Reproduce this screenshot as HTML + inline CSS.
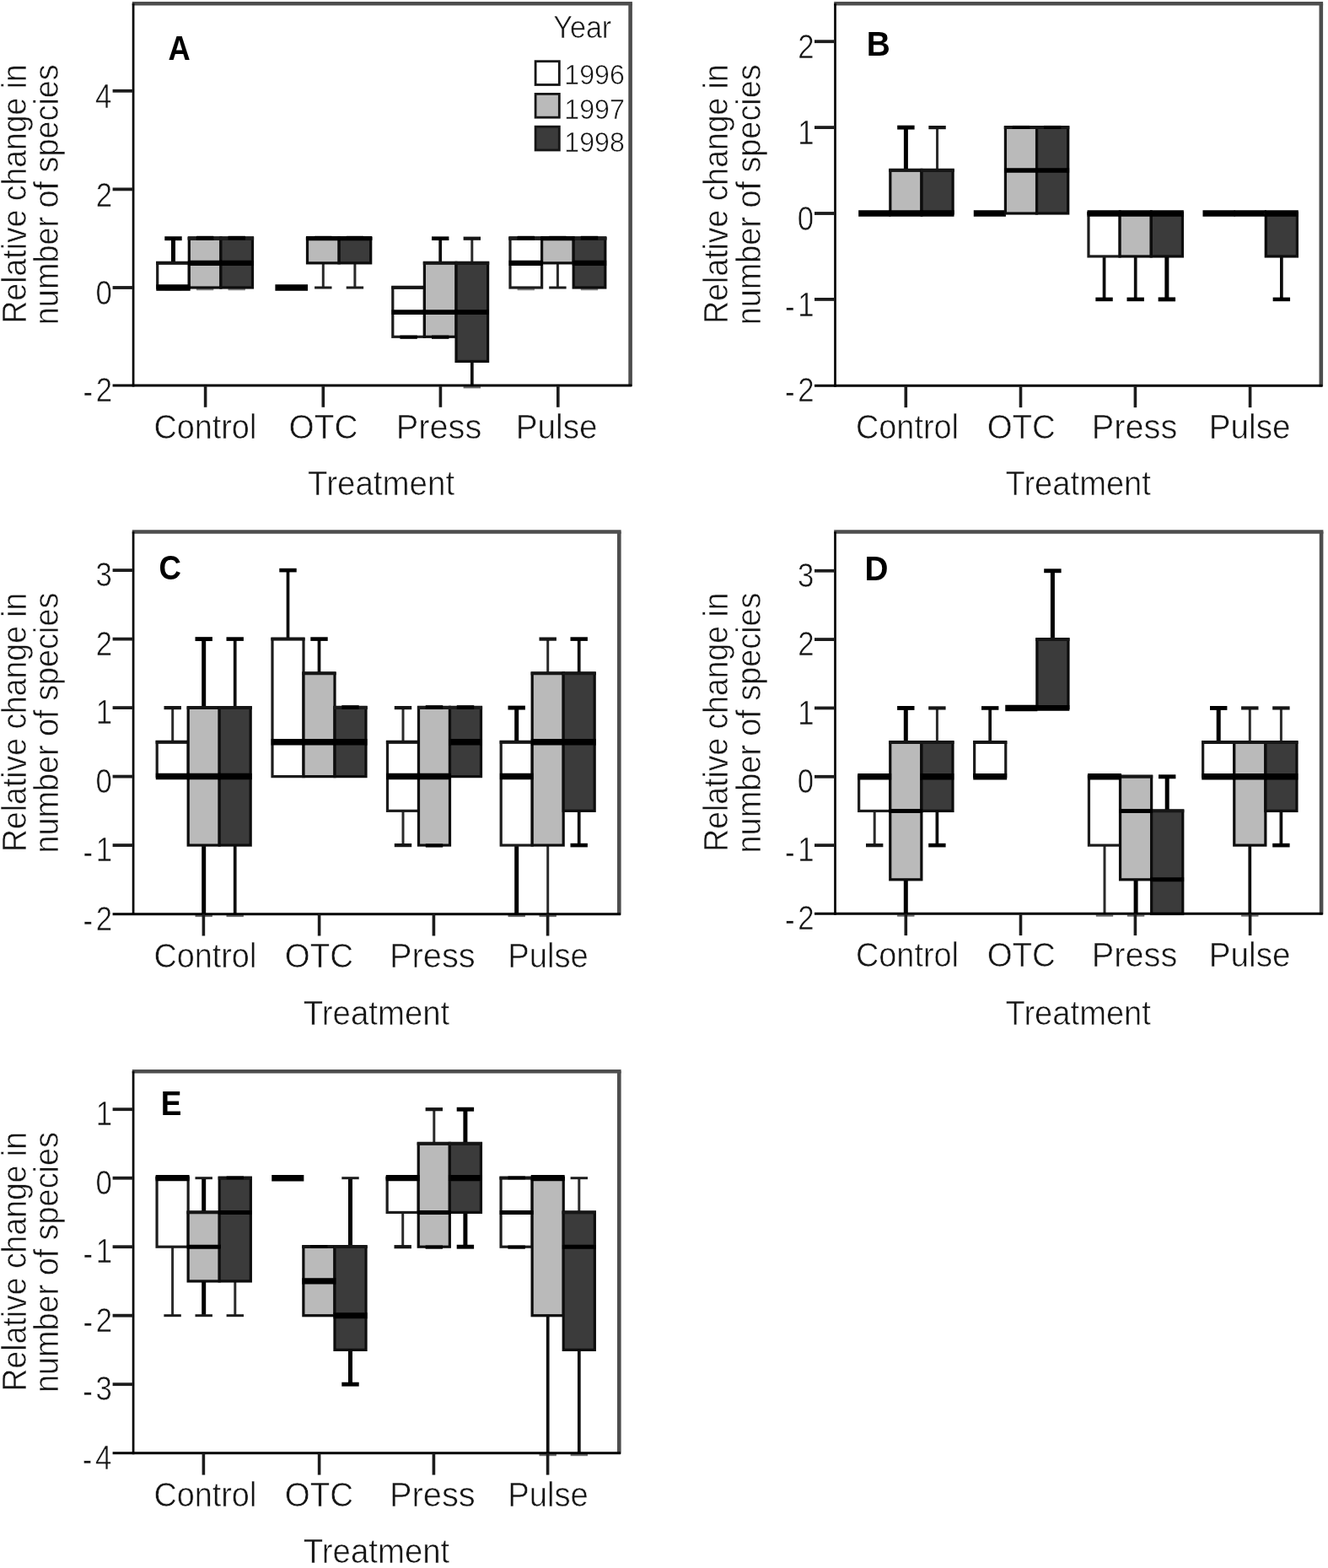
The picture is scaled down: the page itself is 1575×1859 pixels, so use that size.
<!DOCTYPE html>
<html lang="en"><head><meta charset="utf-8"><title>Relative change in number of species by treatment and year</title>
<style>html,body{margin:0;padding:0;background:#fff}body{width:1575px;height:1859px;overflow:hidden}svg{display:block}text{font-family:'Liberation Sans', Arial, Helvetica, sans-serif;fill:#141414;stroke:#fff;stroke-width:0.6px}.b{font-weight:bold;fill:#000;stroke:none}</style></head><body>
<svg width="1575" height="1859" viewBox="0 0 1575 1859">
<defs><filter id="soft" x="0" y="0" width="1575" height="1859" filterUnits="userSpaceOnUse"><feGaussianBlur stdDeviation="0.55"/></filter></defs>
<rect width="1575" height="1859" fill="#fff"/>
<g filter="url(#soft)">
<g id="panel-A">
<line x1="205.5" y1="311.85" x2="205.5" y2="282.7" stroke="#000" stroke-width="5"/>
<line x1="195.3" y1="282.7" x2="215.7" y2="282.7" stroke="#000" stroke-width="4.9"/>
<line x1="195.3" y1="343" x2="215.7" y2="343" stroke="#8a8a8a" stroke-width="2.6"/>
<line x1="232.9" y1="343" x2="253.3" y2="343" stroke="#8a8a8a" stroke-width="2.6"/>
<line x1="270.5" y1="343" x2="290.9" y2="343" stroke="#8a8a8a" stroke-width="2.6"/>
<line x1="383.3" y1="311.85" x2="383.3" y2="341" stroke="#2a2a2a" stroke-width="3"/>
<line x1="373.1" y1="341" x2="393.5" y2="341" stroke="#1a1a1a" stroke-width="3"/>
<line x1="420.9" y1="311.85" x2="420.9" y2="341" stroke="#2a2a2a" stroke-width="3"/>
<line x1="410.7" y1="341" x2="431.1" y2="341" stroke="#1a1a1a" stroke-width="3"/>
<line x1="522.2" y1="311.85" x2="522.2" y2="282.7" stroke="#0a0a0a" stroke-width="3.7"/>
<line x1="512" y1="282.7" x2="532.4" y2="282.7" stroke="#000" stroke-width="4.6"/>
<line x1="559.8" y1="428.45" x2="559.8" y2="457.6" stroke="#0a0a0a" stroke-width="3.7"/>
<line x1="549.6" y1="459.3" x2="570" y2="459.3" stroke="#6a6a6a" stroke-width="2.2"/>
<line x1="559.8" y1="311.85" x2="559.8" y2="282.7" stroke="#2a2a2a" stroke-width="3"/>
<line x1="549.6" y1="282.7" x2="570" y2="282.7" stroke="#141414" stroke-width="4.2"/>
<line x1="613.6" y1="343" x2="634" y2="343" stroke="#8a8a8a" stroke-width="2.6"/>
<line x1="661.4" y1="311.85" x2="661.4" y2="341" stroke="#2a2a2a" stroke-width="3"/>
<line x1="651.2" y1="341" x2="671.6" y2="341" stroke="#1a1a1a" stroke-width="3"/>
<line x1="688.8" y1="343" x2="709.2" y2="343" stroke="#8a8a8a" stroke-width="2.6"/>
<rect x="186.7" y="311.85" width="37.6" height="29.15" fill="#ffffff" stroke="#1c1c1c" stroke-width="3.2"/>
<line x1="185.1" y1="311.65" x2="225.9" y2="311.65" stroke="#141414" stroke-width="4"/>
<rect x="224.3" y="282.7" width="37.6" height="58.3" fill="#bababa" stroke="#0c0c0c" stroke-width="3.2"/>
<line x1="222.7" y1="282.5" x2="263.5" y2="282.5" stroke="#141414" stroke-width="4"/>
<rect x="261.9" y="282.7" width="37.6" height="58.3" fill="#3a3a3a" stroke="#0c0c0c" stroke-width="3.2"/>
<line x1="260.3" y1="282.5" x2="301.1" y2="282.5" stroke="#141414" stroke-width="4"/>
<line x1="326.4" y1="341" x2="365" y2="341" stroke="#000" stroke-width="7.4"/>
<rect x="364.5" y="282.7" width="37.6" height="29.15" fill="#bababa" stroke="#0c0c0c" stroke-width="3.2"/>
<line x1="362.9" y1="282.5" x2="403.7" y2="282.5" stroke="#141414" stroke-width="4"/>
<rect x="402.1" y="282.7" width="37.6" height="29.15" fill="#3a3a3a" stroke="#0c0c0c" stroke-width="3.2"/>
<line x1="400.5" y1="282.5" x2="441.3" y2="282.5" stroke="#141414" stroke-width="4"/>
<rect x="465.8" y="341" width="37.6" height="58.3" fill="#ffffff" stroke="#1c1c1c" stroke-width="3.2"/>
<line x1="464.2" y1="340.8" x2="505" y2="340.8" stroke="#141414" stroke-width="4"/>
<rect x="503.4" y="311.85" width="37.6" height="87.45" fill="#bababa" stroke="#0c0c0c" stroke-width="3.2"/>
<line x1="501.8" y1="311.65" x2="542.6" y2="311.65" stroke="#141414" stroke-width="4"/>
<rect x="541" y="311.85" width="37.6" height="116.6" fill="#3a3a3a" stroke="#0c0c0c" stroke-width="3.2"/>
<line x1="539.4" y1="311.65" x2="580.2" y2="311.65" stroke="#141414" stroke-width="4"/>
<rect x="605" y="282.7" width="37.6" height="58.3" fill="#ffffff" stroke="#1c1c1c" stroke-width="3.2"/>
<line x1="603.4" y1="282.5" x2="644.2" y2="282.5" stroke="#141414" stroke-width="4"/>
<rect x="642.6" y="282.7" width="37.6" height="29.15" fill="#bababa" stroke="#0c0c0c" stroke-width="3.2"/>
<line x1="641" y1="282.5" x2="681.8" y2="282.5" stroke="#141414" stroke-width="4"/>
<rect x="680.2" y="282.7" width="37.6" height="58.3" fill="#3a3a3a" stroke="#0c0c0c" stroke-width="3.2"/>
<line x1="678.6" y1="282.5" x2="719.4" y2="282.5" stroke="#141414" stroke-width="4"/>
<line x1="222.8" y1="282.5" x2="263.4" y2="282.5" stroke="#1a1a1a" stroke-width="4.4"/>
<line x1="232.9" y1="282.2" x2="253.3" y2="282.2" stroke="#000" stroke-width="4.8"/>
<line x1="260.4" y1="282.5" x2="301" y2="282.5" stroke="#1a1a1a" stroke-width="4.4"/>
<line x1="270.5" y1="282.2" x2="290.9" y2="282.2" stroke="#000" stroke-width="4.8"/>
<line x1="363" y1="282.5" x2="403.6" y2="282.5" stroke="#1a1a1a" stroke-width="4.4"/>
<line x1="373.1" y1="282.2" x2="393.5" y2="282.2" stroke="#000" stroke-width="4.8"/>
<line x1="400.6" y1="282.5" x2="441.2" y2="282.5" stroke="#1a1a1a" stroke-width="4.4"/>
<line x1="410.7" y1="282.2" x2="431.1" y2="282.2" stroke="#000" stroke-width="4.8"/>
<line x1="474.4" y1="399.7" x2="494.8" y2="399.7" stroke="#000" stroke-width="4.2"/>
<line x1="512" y1="399.7" x2="532.4" y2="399.7" stroke="#000" stroke-width="4.2"/>
<line x1="603.5" y1="282.5" x2="644.1" y2="282.5" stroke="#1a1a1a" stroke-width="4.4"/>
<line x1="613.6" y1="282.2" x2="634" y2="282.2" stroke="#000" stroke-width="4.8"/>
<line x1="641.1" y1="282.5" x2="681.7" y2="282.5" stroke="#1a1a1a" stroke-width="4.4"/>
<line x1="651.2" y1="282.2" x2="671.6" y2="282.2" stroke="#000" stroke-width="4.8"/>
<line x1="678.7" y1="282.5" x2="719.3" y2="282.5" stroke="#1a1a1a" stroke-width="4.4"/>
<line x1="688.8" y1="282.2" x2="709.2" y2="282.2" stroke="#000" stroke-width="4.8"/>
<line x1="185.3" y1="341" x2="225.7" y2="341" stroke="#000" stroke-width="7.4"/>
<line x1="222.9" y1="311.85" x2="263.3" y2="311.85" stroke="#000" stroke-width="6.4"/>
<line x1="260.5" y1="311.85" x2="300.9" y2="311.85" stroke="#000" stroke-width="6.4"/>
<line x1="363.1" y1="282.7" x2="403.5" y2="282.7" stroke="#000" stroke-width="5"/>
<line x1="400.7" y1="282.7" x2="441.1" y2="282.7" stroke="#000" stroke-width="5"/>
<line x1="464.4" y1="370.15" x2="504.8" y2="370.15" stroke="#000" stroke-width="5.8"/>
<line x1="502" y1="370.15" x2="542.4" y2="370.15" stroke="#000" stroke-width="5.8"/>
<line x1="539.6" y1="370.15" x2="580" y2="370.15" stroke="#000" stroke-width="5.8"/>
<line x1="603.6" y1="311.85" x2="644" y2="311.85" stroke="#000" stroke-width="6.4"/>
<line x1="641.2" y1="282.7" x2="681.6" y2="282.7" stroke="#000" stroke-width="5"/>
<line x1="678.8" y1="311.85" x2="719.2" y2="311.85" stroke="#000" stroke-width="6.4"/>
<line x1="156.8" y1="4.25" x2="749.9" y2="4.25" stroke="#4e4e4e" stroke-width="4.6"/>
<line x1="747.6" y1="4" x2="747.6" y2="458" stroke="#4e4e4e" stroke-width="4.6"/>
<line x1="158.1" y1="4" x2="158.1" y2="458.4" stroke="#000" stroke-width="2.7"/>
<line x1="133.6" y1="457" x2="749.3" y2="457" stroke="#000" stroke-width="3"/>
<line x1="133.6" y1="107.8" x2="158.1" y2="107.8" stroke="#1a1a1a" stroke-width="3.8"/>
<text class="t" transform="translate(113.04 128.1) scale(0.86 1)" font-size="40.5">4</text>
<line x1="133.6" y1="224.4" x2="158.1" y2="224.4" stroke="#1a1a1a" stroke-width="3.8"/>
<text class="t" transform="translate(113.74 244.7) scale(0.86 1)" font-size="40.5">2</text>
<line x1="133.6" y1="341" x2="158.1" y2="341" stroke="#1a1a1a" stroke-width="3.8"/>
<text class="t" transform="translate(113.39 361.3) scale(0.86 1)" font-size="40.5">0</text>
<text class="t" transform="translate(98.53 475.8) scale(0.86 1)" font-size="40.5"><tspan dy="2.3">-</tspan><tspan dy="-2.3" dx="4.2">2</tspan></text>
<line x1="243.6" y1="457" x2="243.6" y2="482.8" stroke="#1a1a1a" stroke-width="3.6"/>
<text class="t" transform="translate(182.41 520.1) scale(0.934 1)" font-size="40.5">Control</text>
<line x1="383.3" y1="457" x2="383.3" y2="482.8" stroke="#1a1a1a" stroke-width="3.6"/>
<text class="t" transform="translate(342.55 520.1) scale(0.9579 1)" font-size="40.5">OTC</text>
<line x1="522.4" y1="457" x2="522.4" y2="482.8" stroke="#1a1a1a" stroke-width="3.6"/>
<text class="t" transform="translate(469.72 520.1) scale(0.9821 1)" font-size="40.5">Press</text>
<line x1="661.8" y1="457" x2="661.8" y2="482.8" stroke="#1a1a1a" stroke-width="3.6"/>
<text class="t" transform="translate(611.7 520.1) scale(0.9574 1)" font-size="40.5">Pulse</text>
<text class="t" transform="translate(365.03 587) scale(0.9353 1)" font-size="41.2">Treatment</text>
<text class="t" transform="translate(30.8 383.49) rotate(-90) scale(0.9005 1)" font-size="41.5">Relative change in</text>
<text class="t" transform="translate(69.3 385.16) rotate(-90) scale(0.9115 1)" font-size="41.5">number of species</text>
<text class="b" transform="translate(199.57 70.9) scale(0.8753 1)" font-size="41.5">A</text>
<text class="t" transform="translate(656.32 45.4) scale(0.922 1)" font-size="37">Year</text>
<rect x="635.1" y="72.7" width="28.2" height="27.8" fill="#ffffff" stroke="#141414" stroke-width="2.8"/>
<text class="t" transform="translate(669.29 100.2) scale(0.9458 1)" font-size="34">1996</text>
<rect x="635.1" y="111.4" width="28.2" height="27.8" fill="#bababa" stroke="#141414" stroke-width="2.8"/>
<text class="t" transform="translate(669.28 140.7) scale(0.948 1)" font-size="34">1997</text>
<rect x="635.1" y="150.2" width="28.2" height="27.8" fill="#3a3a3a" stroke="#141414" stroke-width="2.8"/>
<text class="t" transform="translate(669.29 179.8) scale(0.9458 1)" font-size="34">1998</text>
</g>
<g id="panel-B">
<line x1="1074.4" y1="202.05" x2="1074.4" y2="151.1" stroke="#000" stroke-width="5"/>
<line x1="1064.2" y1="151.1" x2="1084.6" y2="151.1" stroke="#000" stroke-width="4.9"/>
<line x1="1111.55" y1="202.05" x2="1111.55" y2="151.1" stroke="#2a2a2a" stroke-width="3"/>
<line x1="1101.35" y1="151.1" x2="1121.75" y2="151.1" stroke="#141414" stroke-width="4.2"/>
<line x1="1309.55" y1="303.95" x2="1309.55" y2="354.9" stroke="#0a0a0a" stroke-width="3.7"/>
<line x1="1299.35" y1="354.9" x2="1319.75" y2="354.9" stroke="#000" stroke-width="4.6"/>
<line x1="1346.7" y1="303.95" x2="1346.7" y2="354.9" stroke="#0a0a0a" stroke-width="3.7"/>
<line x1="1336.5" y1="354.9" x2="1356.9" y2="354.9" stroke="#000" stroke-width="4.6"/>
<line x1="1383.85" y1="303.95" x2="1383.85" y2="354.9" stroke="#000" stroke-width="5"/>
<line x1="1373.65" y1="354.9" x2="1394.05" y2="354.9" stroke="#000" stroke-width="4.9"/>
<line x1="1519.85" y1="303.95" x2="1519.85" y2="354.9" stroke="#0a0a0a" stroke-width="3.7"/>
<line x1="1509.65" y1="354.9" x2="1530.05" y2="354.9" stroke="#000" stroke-width="4.6"/>
<line x1="1018.18" y1="253" x2="1056.33" y2="253" stroke="#000" stroke-width="7.4"/>
<rect x="1055.83" y="202.05" width="37.15" height="50.95" fill="#bababa" stroke="#0c0c0c" stroke-width="3.2"/>
<line x1="1054.23" y1="201.85" x2="1094.58" y2="201.85" stroke="#141414" stroke-width="4"/>
<rect x="1092.98" y="202.05" width="37.15" height="50.95" fill="#3a3a3a" stroke="#0c0c0c" stroke-width="3.2"/>
<line x1="1091.38" y1="201.85" x2="1131.73" y2="201.85" stroke="#141414" stroke-width="4"/>
<line x1="1154.78" y1="253" x2="1192.93" y2="253" stroke="#000" stroke-width="7.4"/>
<rect x="1192.42" y="151.1" width="37.15" height="101.9" fill="#bababa" stroke="#0c0c0c" stroke-width="3.2"/>
<line x1="1190.83" y1="150.9" x2="1231.17" y2="150.9" stroke="#141414" stroke-width="4"/>
<rect x="1229.58" y="151.1" width="37.15" height="101.9" fill="#3a3a3a" stroke="#0c0c0c" stroke-width="3.2"/>
<line x1="1227.98" y1="150.9" x2="1268.33" y2="150.9" stroke="#141414" stroke-width="4"/>
<rect x="1290.98" y="253" width="37.15" height="50.95" fill="#ffffff" stroke="#1c1c1c" stroke-width="3.2"/>
<line x1="1289.38" y1="252.8" x2="1329.73" y2="252.8" stroke="#141414" stroke-width="4"/>
<rect x="1328.12" y="253" width="37.15" height="50.95" fill="#bababa" stroke="#0c0c0c" stroke-width="3.2"/>
<line x1="1326.53" y1="252.8" x2="1366.88" y2="252.8" stroke="#141414" stroke-width="4"/>
<rect x="1365.28" y="253" width="37.15" height="50.95" fill="#3a3a3a" stroke="#0c0c0c" stroke-width="3.2"/>
<line x1="1363.68" y1="252.8" x2="1404.03" y2="252.8" stroke="#141414" stroke-width="4"/>
<line x1="1426.48" y1="253" x2="1464.63" y2="253" stroke="#000" stroke-width="7.4"/>
<line x1="1463.62" y1="253" x2="1501.78" y2="253" stroke="#000" stroke-width="7.4"/>
<rect x="1501.28" y="253" width="37.15" height="50.95" fill="#3a3a3a" stroke="#0c0c0c" stroke-width="3.2"/>
<line x1="1499.68" y1="252.8" x2="1540.03" y2="252.8" stroke="#141414" stroke-width="4"/>
<line x1="1200.8" y1="150.8" x2="1221.2" y2="150.8" stroke="#000" stroke-width="3.8"/>
<line x1="1237.95" y1="150.8" x2="1258.35" y2="150.8" stroke="#000" stroke-width="3.8"/>
<line x1="1054.42" y1="253" x2="1094.38" y2="253" stroke="#000" stroke-width="7.4"/>
<line x1="1091.58" y1="253" x2="1131.53" y2="253" stroke="#000" stroke-width="7.4"/>
<line x1="1191.02" y1="202.05" x2="1230.98" y2="202.05" stroke="#000" stroke-width="5.6"/>
<line x1="1228.17" y1="202.05" x2="1268.13" y2="202.05" stroke="#000" stroke-width="5.6"/>
<line x1="1289.58" y1="253" x2="1329.53" y2="253" stroke="#000" stroke-width="7.4"/>
<line x1="1326.72" y1="253" x2="1366.68" y2="253" stroke="#000" stroke-width="7.4"/>
<line x1="1363.88" y1="253" x2="1403.83" y2="253" stroke="#000" stroke-width="7.4"/>
<line x1="1499.88" y1="253" x2="1539.83" y2="253" stroke="#000" stroke-width="7.4"/>
<line x1="989.2" y1="4.25" x2="1569.1" y2="4.25" stroke="#4e4e4e" stroke-width="4.6"/>
<line x1="1566.8" y1="4" x2="1566.8" y2="458.3" stroke="#4e4e4e" stroke-width="4.6"/>
<line x1="990.5" y1="4" x2="990.5" y2="458.7" stroke="#000" stroke-width="2.7"/>
<line x1="966" y1="457.3" x2="1568.5" y2="457.3" stroke="#000" stroke-width="3"/>
<line x1="966" y1="49.2" x2="990.5" y2="49.2" stroke="#1a1a1a" stroke-width="3.8"/>
<text class="t" transform="translate(946.14 69.2) scale(0.86 1)" font-size="40.5">2</text>
<line x1="966" y1="151.1" x2="990.5" y2="151.1" stroke="#1a1a1a" stroke-width="3.8"/>
<text class="t" transform="translate(946.14 171.1) scale(0.86 1)" font-size="40.5">1</text>
<line x1="966" y1="253" x2="990.5" y2="253" stroke="#1a1a1a" stroke-width="3.8"/>
<text class="t" transform="translate(945.79 273) scale(0.86 1)" font-size="40.5">0</text>
<line x1="966" y1="354.9" x2="990.5" y2="354.9" stroke="#1a1a1a" stroke-width="3.8"/>
<text class="t" transform="translate(930.93 374.9) scale(0.86 1)" font-size="40.5"><tspan dy="2.3">-</tspan><tspan dy="-2.3" dx="4.2">1</tspan></text>
<text class="t" transform="translate(930.93 476.1) scale(0.86 1)" font-size="40.5"><tspan dy="2.3">-</tspan><tspan dy="-2.3" dx="4.2">2</tspan></text>
<line x1="1074.3" y1="457.3" x2="1074.3" y2="483.1" stroke="#1a1a1a" stroke-width="3.6"/>
<text class="t" transform="translate(1014.91 520.4) scale(0.9356 1)" font-size="40.5">Control</text>
<line x1="1210.5" y1="457.3" x2="1210.5" y2="483.1" stroke="#1a1a1a" stroke-width="3.6"/>
<text class="t" transform="translate(1170.67 520.4) scale(0.9506 1)" font-size="40.5">OTC</text>
<line x1="1346.4" y1="457.3" x2="1346.4" y2="483.1" stroke="#1a1a1a" stroke-width="3.6"/>
<text class="t" transform="translate(1294.72 520.4) scale(0.9821 1)" font-size="40.5">Press</text>
<line x1="1482.6" y1="457.3" x2="1482.6" y2="483.1" stroke="#1a1a1a" stroke-width="3.6"/>
<text class="t" transform="translate(1433.81 520.4) scale(0.9543 1)" font-size="40.5">Pulse</text>
<text class="t" transform="translate(1192.54 587) scale(0.9261 1)" font-size="41.2">Treatment</text>
<text class="t" transform="translate(863.2 383.64) rotate(-90) scale(0.9005 1)" font-size="41.5">Relative change in</text>
<text class="t" transform="translate(901.7 385.31) rotate(-90) scale(0.9115 1)" font-size="41.5">number of species</text>
<text class="b" transform="translate(1027.77 66.4) scale(0.9364 1)" font-size="41.5">B</text>
</g>
<g id="panel-C">
<line x1="204.7" y1="879.85" x2="204.7" y2="839.1" stroke="#2a2a2a" stroke-width="3"/>
<line x1="194.5" y1="839.1" x2="214.9" y2="839.1" stroke="#141414" stroke-width="4.2"/>
<line x1="241.7" y1="1002.1" x2="241.7" y2="1083.6" stroke="#000" stroke-width="5"/>
<line x1="231.5" y1="1086" x2="251.9" y2="1086" stroke="#6a6a6a" stroke-width="2.2"/>
<line x1="241.7" y1="839.1" x2="241.7" y2="757.6" stroke="#000" stroke-width="5"/>
<line x1="231.5" y1="757.6" x2="251.9" y2="757.6" stroke="#000" stroke-width="4.9"/>
<line x1="278.7" y1="1002.1" x2="278.7" y2="1083.6" stroke="#0a0a0a" stroke-width="3.7"/>
<line x1="268.5" y1="1086" x2="288.9" y2="1086" stroke="#6a6a6a" stroke-width="2.2"/>
<line x1="278.7" y1="839.1" x2="278.7" y2="757.6" stroke="#0a0a0a" stroke-width="3.7"/>
<line x1="268.5" y1="757.6" x2="288.9" y2="757.6" stroke="#000" stroke-width="4.6"/>
<line x1="341.5" y1="757.6" x2="341.5" y2="676.1" stroke="#0a0a0a" stroke-width="3.7"/>
<line x1="331.3" y1="676.1" x2="351.7" y2="676.1" stroke="#000" stroke-width="4.6"/>
<line x1="378.5" y1="798.35" x2="378.5" y2="757.6" stroke="#0a0a0a" stroke-width="3.7"/>
<line x1="368.3" y1="757.6" x2="388.7" y2="757.6" stroke="#000" stroke-width="4.6"/>
<line x1="478" y1="961.35" x2="478" y2="1002.1" stroke="#2a2a2a" stroke-width="3"/>
<line x1="467.8" y1="1002.1" x2="488.2" y2="1002.1" stroke="#141414" stroke-width="4.2"/>
<line x1="478" y1="879.85" x2="478" y2="839.1" stroke="#2a2a2a" stroke-width="3"/>
<line x1="467.8" y1="839.1" x2="488.2" y2="839.1" stroke="#141414" stroke-width="4.2"/>
<line x1="612.7" y1="1002.1" x2="612.7" y2="1083.6" stroke="#000" stroke-width="5"/>
<line x1="602.5" y1="1086" x2="622.9" y2="1086" stroke="#6a6a6a" stroke-width="2.2"/>
<line x1="612.7" y1="879.85" x2="612.7" y2="839.1" stroke="#000" stroke-width="5"/>
<line x1="602.5" y1="839.1" x2="622.9" y2="839.1" stroke="#000" stroke-width="4.9"/>
<line x1="649.7" y1="1002.1" x2="649.7" y2="1083.6" stroke="#2a2a2a" stroke-width="3"/>
<line x1="639.5" y1="1086" x2="659.9" y2="1086" stroke="#6a6a6a" stroke-width="2.2"/>
<line x1="649.7" y1="798.35" x2="649.7" y2="757.6" stroke="#2a2a2a" stroke-width="3"/>
<line x1="639.5" y1="757.6" x2="659.9" y2="757.6" stroke="#141414" stroke-width="4.2"/>
<line x1="686.7" y1="961.35" x2="686.7" y2="1002.1" stroke="#0a0a0a" stroke-width="3.7"/>
<line x1="676.5" y1="1002.1" x2="696.9" y2="1002.1" stroke="#000" stroke-width="4.6"/>
<line x1="686.7" y1="798.35" x2="686.7" y2="757.6" stroke="#0a0a0a" stroke-width="3.7"/>
<line x1="676.5" y1="757.6" x2="696.9" y2="757.6" stroke="#000" stroke-width="4.6"/>
<rect x="186.2" y="879.85" width="37" height="40.75" fill="#ffffff" stroke="#1c1c1c" stroke-width="3.2"/>
<line x1="184.6" y1="879.65" x2="224.8" y2="879.65" stroke="#141414" stroke-width="4"/>
<rect x="223.2" y="839.1" width="37" height="163" fill="#bababa" stroke="#0c0c0c" stroke-width="3.2"/>
<line x1="221.6" y1="838.9" x2="261.8" y2="838.9" stroke="#141414" stroke-width="4"/>
<rect x="260.2" y="839.1" width="37" height="163" fill="#3a3a3a" stroke="#0c0c0c" stroke-width="3.2"/>
<line x1="258.6" y1="838.9" x2="298.8" y2="838.9" stroke="#141414" stroke-width="4"/>
<rect x="323" y="757.6" width="37" height="163" fill="#ffffff" stroke="#1c1c1c" stroke-width="3.2"/>
<line x1="321.4" y1="757.4" x2="361.6" y2="757.4" stroke="#141414" stroke-width="4"/>
<rect x="360" y="798.35" width="37" height="122.25" fill="#bababa" stroke="#0c0c0c" stroke-width="3.2"/>
<line x1="358.4" y1="798.15" x2="398.6" y2="798.15" stroke="#141414" stroke-width="4"/>
<rect x="397" y="839.1" width="37" height="81.5" fill="#3a3a3a" stroke="#0c0c0c" stroke-width="3.2"/>
<line x1="395.4" y1="838.9" x2="435.6" y2="838.9" stroke="#141414" stroke-width="4"/>
<rect x="459.5" y="879.85" width="37" height="81.5" fill="#ffffff" stroke="#1c1c1c" stroke-width="3.2"/>
<line x1="457.9" y1="879.65" x2="498.1" y2="879.65" stroke="#141414" stroke-width="4"/>
<rect x="496.5" y="839.1" width="37" height="163" fill="#bababa" stroke="#0c0c0c" stroke-width="3.2"/>
<line x1="494.9" y1="838.9" x2="535.1" y2="838.9" stroke="#141414" stroke-width="4"/>
<rect x="533.5" y="839.1" width="37" height="81.5" fill="#3a3a3a" stroke="#0c0c0c" stroke-width="3.2"/>
<line x1="531.9" y1="838.9" x2="572.1" y2="838.9" stroke="#141414" stroke-width="4"/>
<rect x="594.2" y="879.85" width="37" height="122.25" fill="#ffffff" stroke="#1c1c1c" stroke-width="3.2"/>
<line x1="592.6" y1="879.65" x2="632.8" y2="879.65" stroke="#141414" stroke-width="4"/>
<rect x="631.2" y="798.35" width="37" height="203.75" fill="#bababa" stroke="#0c0c0c" stroke-width="3.2"/>
<line x1="629.6" y1="798.15" x2="669.8" y2="798.15" stroke="#141414" stroke-width="4"/>
<rect x="668.2" y="798.35" width="37" height="163" fill="#3a3a3a" stroke="#0c0c0c" stroke-width="3.2"/>
<line x1="666.6" y1="798.15" x2="706.8" y2="798.15" stroke="#141414" stroke-width="4"/>
<line x1="395.5" y1="838.9" x2="435.5" y2="838.9" stroke="#1a1a1a" stroke-width="4.4"/>
<line x1="405.3" y1="838.6" x2="425.7" y2="838.6" stroke="#000" stroke-width="4.8"/>
<line x1="495" y1="838.9" x2="535" y2="838.9" stroke="#1a1a1a" stroke-width="4.4"/>
<line x1="504.8" y1="838.6" x2="525.2" y2="838.6" stroke="#000" stroke-width="4.8"/>
<line x1="504.8" y1="1002.5" x2="525.2" y2="1002.5" stroke="#000" stroke-width="4.2"/>
<line x1="532" y1="838.9" x2="572" y2="838.9" stroke="#1a1a1a" stroke-width="4.4"/>
<line x1="541.8" y1="838.6" x2="562.2" y2="838.6" stroke="#000" stroke-width="4.8"/>
<line x1="184.8" y1="920.6" x2="224.6" y2="920.6" stroke="#000" stroke-width="7.5"/>
<line x1="221.8" y1="920.6" x2="261.6" y2="920.6" stroke="#000" stroke-width="7.5"/>
<line x1="258.8" y1="920.6" x2="298.6" y2="920.6" stroke="#000" stroke-width="7.5"/>
<line x1="321.6" y1="879.85" x2="361.4" y2="879.85" stroke="#000" stroke-width="7.5"/>
<line x1="358.6" y1="879.85" x2="398.4" y2="879.85" stroke="#000" stroke-width="7.5"/>
<line x1="395.6" y1="879.85" x2="435.4" y2="879.85" stroke="#000" stroke-width="7.5"/>
<line x1="458.1" y1="920.6" x2="497.9" y2="920.6" stroke="#000" stroke-width="7.5"/>
<line x1="495.1" y1="920.6" x2="534.9" y2="920.6" stroke="#000" stroke-width="7.5"/>
<line x1="532.1" y1="879.85" x2="571.9" y2="879.85" stroke="#000" stroke-width="7.5"/>
<line x1="592.8" y1="920.6" x2="632.6" y2="920.6" stroke="#000" stroke-width="7.5"/>
<line x1="629.8" y1="879.85" x2="669.6" y2="879.85" stroke="#000" stroke-width="7.5"/>
<line x1="666.8" y1="879.85" x2="706.6" y2="879.85" stroke="#000" stroke-width="7.5"/>
<line x1="156.8" y1="630.45" x2="736.6" y2="630.45" stroke="#4e4e4e" stroke-width="4.6"/>
<line x1="734.3" y1="630.2" x2="734.3" y2="1084.7" stroke="#4e4e4e" stroke-width="4.6"/>
<line x1="158.1" y1="630.2" x2="158.1" y2="1085.1" stroke="#000" stroke-width="2.7"/>
<line x1="133.6" y1="1083.7" x2="736" y2="1083.7" stroke="#000" stroke-width="3"/>
<line x1="133.6" y1="676.1" x2="158.1" y2="676.1" stroke="#1a1a1a" stroke-width="3.8"/>
<text class="t" transform="translate(113.56 695.3) scale(0.86 1)" font-size="40.5">3</text>
<line x1="133.6" y1="757.6" x2="158.1" y2="757.6" stroke="#1a1a1a" stroke-width="3.8"/>
<text class="t" transform="translate(113.74 776.8) scale(0.86 1)" font-size="40.5">2</text>
<line x1="133.6" y1="839.1" x2="158.1" y2="839.1" stroke="#1a1a1a" stroke-width="3.8"/>
<text class="t" transform="translate(113.74 858.3) scale(0.86 1)" font-size="40.5">1</text>
<line x1="133.6" y1="920.6" x2="158.1" y2="920.6" stroke="#1a1a1a" stroke-width="3.8"/>
<text class="t" transform="translate(113.39 939.8) scale(0.86 1)" font-size="40.5">0</text>
<line x1="133.6" y1="1002.1" x2="158.1" y2="1002.1" stroke="#1a1a1a" stroke-width="3.8"/>
<text class="t" transform="translate(98.53 1021.3) scale(0.86 1)" font-size="40.5"><tspan dy="2.3">-</tspan><tspan dy="-2.3" dx="4.2">1</tspan></text>
<text class="t" transform="translate(98.53 1102.5) scale(0.86 1)" font-size="40.5"><tspan dy="2.3">-</tspan><tspan dy="-2.3" dx="4.2">2</tspan></text>
<line x1="241.4" y1="1083.7" x2="241.4" y2="1109.5" stroke="#1a1a1a" stroke-width="3.6"/>
<text class="t" transform="translate(182.41 1146.8) scale(0.934 1)" font-size="40.5">Control</text>
<line x1="378.6" y1="1083.7" x2="378.6" y2="1109.5" stroke="#1a1a1a" stroke-width="3.6"/>
<text class="t" transform="translate(337.77 1146.8) scale(0.9506 1)" font-size="40.5">OTC</text>
<line x1="514.4" y1="1083.7" x2="514.4" y2="1109.5" stroke="#1a1a1a" stroke-width="3.6"/>
<text class="t" transform="translate(462.01 1146.8) scale(0.9831 1)" font-size="40.5">Press</text>
<line x1="649.6" y1="1083.7" x2="649.6" y2="1109.5" stroke="#1a1a1a" stroke-width="3.6"/>
<text class="t" transform="translate(602.14 1146.8) scale(0.945 1)" font-size="40.5">Pulse</text>
<text class="t" transform="translate(359.73 1214.5) scale(0.9321 1)" font-size="41.2">Treatment</text>
<text class="t" transform="translate(30.8 1009.94) rotate(-90) scale(0.9005 1)" font-size="41.5">Relative change in</text>
<text class="t" transform="translate(69.3 1011.61) rotate(-90) scale(0.9115 1)" font-size="41.5">number of species</text>
<text class="b" transform="translate(188.53 687.4) scale(0.8829 1)" font-size="41.5">C</text>
</g>
<g id="panel-D">
<line x1="1037.2" y1="961.47" x2="1037.2" y2="1002.15" stroke="#2a2a2a" stroke-width="3"/>
<line x1="1027" y1="1002.15" x2="1047.4" y2="1002.15" stroke="#141414" stroke-width="4.2"/>
<line x1="1074.3" y1="1042.83" x2="1074.3" y2="1083.5" stroke="#000" stroke-width="5"/>
<line x1="1064.1" y1="1085.6" x2="1084.5" y2="1085.6" stroke="#6a6a6a" stroke-width="2.2"/>
<line x1="1074.3" y1="880.12" x2="1074.3" y2="839.45" stroke="#000" stroke-width="5"/>
<line x1="1064.1" y1="839.45" x2="1084.5" y2="839.45" stroke="#000" stroke-width="4.9"/>
<line x1="1111.4" y1="961.47" x2="1111.4" y2="1002.15" stroke="#0a0a0a" stroke-width="3.7"/>
<line x1="1101.2" y1="1002.15" x2="1121.6" y2="1002.15" stroke="#000" stroke-width="4.6"/>
<line x1="1111.4" y1="880.12" x2="1111.4" y2="839.45" stroke="#2a2a2a" stroke-width="3"/>
<line x1="1101.2" y1="839.45" x2="1121.6" y2="839.45" stroke="#141414" stroke-width="4.2"/>
<line x1="1174.2" y1="880.12" x2="1174.2" y2="839.45" stroke="#0a0a0a" stroke-width="3.7"/>
<line x1="1164" y1="839.45" x2="1184.4" y2="839.45" stroke="#000" stroke-width="4.6"/>
<line x1="1248.4" y1="758.1" x2="1248.4" y2="676.75" stroke="#000" stroke-width="5"/>
<line x1="1238.2" y1="676.75" x2="1258.6" y2="676.75" stroke="#000" stroke-width="4.9"/>
<line x1="1310" y1="1002.15" x2="1310" y2="1083.5" stroke="#2a2a2a" stroke-width="3"/>
<line x1="1299.8" y1="1085.6" x2="1320.2" y2="1085.6" stroke="#6a6a6a" stroke-width="2.2"/>
<line x1="1347.1" y1="1042.83" x2="1347.1" y2="1083.5" stroke="#000" stroke-width="5"/>
<line x1="1336.9" y1="1085.6" x2="1357.3" y2="1085.6" stroke="#6a6a6a" stroke-width="2.2"/>
<line x1="1384.2" y1="961.47" x2="1384.2" y2="920.8" stroke="#000" stroke-width="5"/>
<line x1="1374" y1="920.8" x2="1394.4" y2="920.8" stroke="#000" stroke-width="4.9"/>
<line x1="1445.2" y1="880.12" x2="1445.2" y2="839.45" stroke="#000" stroke-width="5"/>
<line x1="1435" y1="839.45" x2="1455.4" y2="839.45" stroke="#000" stroke-width="4.9"/>
<line x1="1482.3" y1="1002.15" x2="1482.3" y2="1083.5" stroke="#0a0a0a" stroke-width="3.7"/>
<line x1="1472.1" y1="1085.6" x2="1492.5" y2="1085.6" stroke="#6a6a6a" stroke-width="2.2"/>
<line x1="1482.3" y1="880.12" x2="1482.3" y2="839.45" stroke="#2a2a2a" stroke-width="3"/>
<line x1="1472.1" y1="839.45" x2="1492.5" y2="839.45" stroke="#141414" stroke-width="4.2"/>
<line x1="1519.4" y1="961.47" x2="1519.4" y2="1002.15" stroke="#0a0a0a" stroke-width="3.7"/>
<line x1="1509.2" y1="1002.15" x2="1529.6" y2="1002.15" stroke="#000" stroke-width="4.6"/>
<line x1="1519.4" y1="880.12" x2="1519.4" y2="839.45" stroke="#2a2a2a" stroke-width="3"/>
<line x1="1509.2" y1="839.45" x2="1529.6" y2="839.45" stroke="#141414" stroke-width="4.2"/>
<rect x="1018.65" y="920.8" width="37.1" height="40.67" fill="#ffffff" stroke="#1c1c1c" stroke-width="3.2"/>
<line x1="1017.05" y1="920.6" x2="1057.35" y2="920.6" stroke="#141414" stroke-width="4"/>
<rect x="1055.75" y="880.12" width="37.1" height="162.7" fill="#bababa" stroke="#0c0c0c" stroke-width="3.2"/>
<line x1="1054.15" y1="879.92" x2="1094.45" y2="879.92" stroke="#141414" stroke-width="4"/>
<rect x="1092.85" y="880.12" width="37.1" height="81.35" fill="#3a3a3a" stroke="#0c0c0c" stroke-width="3.2"/>
<line x1="1091.25" y1="879.92" x2="1131.55" y2="879.92" stroke="#141414" stroke-width="4"/>
<rect x="1155.65" y="880.12" width="37.1" height="40.67" fill="#ffffff" stroke="#1c1c1c" stroke-width="3.2"/>
<line x1="1154.05" y1="879.92" x2="1194.35" y2="879.92" stroke="#141414" stroke-width="4"/>
<line x1="1192.25" y1="839.45" x2="1230.35" y2="839.45" stroke="#000" stroke-width="7.4"/>
<rect x="1229.85" y="758.1" width="37.1" height="81.35" fill="#3a3a3a" stroke="#0c0c0c" stroke-width="3.2"/>
<line x1="1228.25" y1="757.9" x2="1268.55" y2="757.9" stroke="#141414" stroke-width="4"/>
<rect x="1291.45" y="920.8" width="37.1" height="81.35" fill="#ffffff" stroke="#1c1c1c" stroke-width="3.2"/>
<line x1="1289.85" y1="920.6" x2="1330.15" y2="920.6" stroke="#141414" stroke-width="4"/>
<rect x="1328.55" y="920.8" width="37.1" height="122.03" fill="#bababa" stroke="#0c0c0c" stroke-width="3.2"/>
<line x1="1326.95" y1="920.6" x2="1367.25" y2="920.6" stroke="#141414" stroke-width="4"/>
<rect x="1365.65" y="961.47" width="37.1" height="122.03" fill="#3a3a3a" stroke="#0c0c0c" stroke-width="3.2"/>
<line x1="1364.05" y1="961.27" x2="1404.35" y2="961.27" stroke="#141414" stroke-width="4"/>
<rect x="1426.65" y="880.12" width="37.1" height="40.67" fill="#ffffff" stroke="#1c1c1c" stroke-width="3.2"/>
<line x1="1425.05" y1="879.92" x2="1465.35" y2="879.92" stroke="#141414" stroke-width="4"/>
<rect x="1463.75" y="880.12" width="37.1" height="122.02" fill="#bababa" stroke="#0c0c0c" stroke-width="3.2"/>
<line x1="1462.15" y1="879.92" x2="1502.45" y2="879.92" stroke="#141414" stroke-width="4"/>
<rect x="1500.85" y="880.12" width="37.1" height="81.35" fill="#3a3a3a" stroke="#0c0c0c" stroke-width="3.2"/>
<line x1="1499.25" y1="879.92" x2="1539.55" y2="879.92" stroke="#141414" stroke-width="4"/>
<line x1="1017.25" y1="920.8" x2="1057.15" y2="920.8" stroke="#000" stroke-width="7.5"/>
<line x1="1054.35" y1="961.47" x2="1094.25" y2="961.47" stroke="#000" stroke-width="5"/>
<line x1="1091.45" y1="920.8" x2="1131.35" y2="920.8" stroke="#000" stroke-width="7.5"/>
<line x1="1154.25" y1="920.8" x2="1194.15" y2="920.8" stroke="#000" stroke-width="7.5"/>
<line x1="1228.45" y1="839.45" x2="1268.35" y2="839.45" stroke="#000" stroke-width="6.8"/>
<line x1="1290.05" y1="920.8" x2="1329.95" y2="920.8" stroke="#000" stroke-width="7.5"/>
<line x1="1327.15" y1="961.47" x2="1367.05" y2="961.47" stroke="#000" stroke-width="5"/>
<line x1="1364.25" y1="1042.83" x2="1404.15" y2="1042.83" stroke="#000" stroke-width="5"/>
<line x1="1425.25" y1="920.8" x2="1465.15" y2="920.8" stroke="#000" stroke-width="7.5"/>
<line x1="1462.35" y1="920.8" x2="1502.25" y2="920.8" stroke="#000" stroke-width="7.5"/>
<line x1="1499.45" y1="920.8" x2="1539.35" y2="920.8" stroke="#000" stroke-width="7.5"/>
<line x1="989.2" y1="630.45" x2="1569.4" y2="630.45" stroke="#4e4e4e" stroke-width="4.6"/>
<line x1="1567.1" y1="630.2" x2="1567.1" y2="1084.3" stroke="#4e4e4e" stroke-width="4.6"/>
<line x1="990.5" y1="630.2" x2="990.5" y2="1084.7" stroke="#000" stroke-width="2.7"/>
<line x1="966" y1="1083.3" x2="1568.8" y2="1083.3" stroke="#000" stroke-width="3"/>
<line x1="966" y1="676.75" x2="990.5" y2="676.75" stroke="#1a1a1a" stroke-width="3.8"/>
<text class="t" transform="translate(945.96 695.95) scale(0.86 1)" font-size="40.5">3</text>
<line x1="966" y1="758.1" x2="990.5" y2="758.1" stroke="#1a1a1a" stroke-width="3.8"/>
<text class="t" transform="translate(946.14 777.3) scale(0.86 1)" font-size="40.5">2</text>
<line x1="966" y1="839.45" x2="990.5" y2="839.45" stroke="#1a1a1a" stroke-width="3.8"/>
<text class="t" transform="translate(946.14 858.65) scale(0.86 1)" font-size="40.5">1</text>
<line x1="966" y1="920.8" x2="990.5" y2="920.8" stroke="#1a1a1a" stroke-width="3.8"/>
<text class="t" transform="translate(945.79 940) scale(0.86 1)" font-size="40.5">0</text>
<line x1="966" y1="1002.15" x2="990.5" y2="1002.15" stroke="#1a1a1a" stroke-width="3.8"/>
<text class="t" transform="translate(930.93 1021.35) scale(0.86 1)" font-size="40.5"><tspan dy="2.3">-</tspan><tspan dy="-2.3" dx="4.2">1</tspan></text>
<text class="t" transform="translate(930.93 1102.1) scale(0.86 1)" font-size="40.5"><tspan dy="2.3">-</tspan><tspan dy="-2.3" dx="4.2">2</tspan></text>
<line x1="1074.3" y1="1083.3" x2="1074.3" y2="1109.1" stroke="#1a1a1a" stroke-width="3.6"/>
<text class="t" transform="translate(1014.91 1146.4) scale(0.9356 1)" font-size="40.5">Control</text>
<line x1="1210.5" y1="1083.3" x2="1210.5" y2="1109.1" stroke="#1a1a1a" stroke-width="3.6"/>
<text class="t" transform="translate(1170.67 1146.4) scale(0.9506 1)" font-size="40.5">OTC</text>
<line x1="1346.4" y1="1083.3" x2="1346.4" y2="1109.1" stroke="#1a1a1a" stroke-width="3.6"/>
<text class="t" transform="translate(1294.72 1146.4) scale(0.9821 1)" font-size="40.5">Press</text>
<line x1="1482.6" y1="1083.3" x2="1482.6" y2="1109.1" stroke="#1a1a1a" stroke-width="3.6"/>
<text class="t" transform="translate(1433.81 1146.4) scale(0.9543 1)" font-size="40.5">Pulse</text>
<text class="t" transform="translate(1192.54 1214.5) scale(0.9261 1)" font-size="41.2">Treatment</text>
<text class="t" transform="translate(863.2 1009.74) rotate(-90) scale(0.9005 1)" font-size="41.5">Relative change in</text>
<text class="t" transform="translate(901.7 1011.41) rotate(-90) scale(0.9115 1)" font-size="41.5">number of species</text>
<text class="b" transform="translate(1025.48 688) scale(0.9328 1)" font-size="41.5">D</text>
</g>
<g id="panel-E">
<line x1="204.6" y1="1478.2" x2="204.6" y2="1559.7" stroke="#2a2a2a" stroke-width="3"/>
<line x1="194.4" y1="1559.7" x2="214.8" y2="1559.7" stroke="#1a1a1a" stroke-width="3"/>
<line x1="241.7" y1="1518.95" x2="241.7" y2="1559.7" stroke="#000" stroke-width="5"/>
<line x1="231.5" y1="1559.7" x2="251.9" y2="1559.7" stroke="#1a1a1a" stroke-width="3"/>
<line x1="241.7" y1="1437.45" x2="241.7" y2="1396.7" stroke="#000" stroke-width="5"/>
<line x1="231.5" y1="1396.7" x2="251.9" y2="1396.7" stroke="#1a1a1a" stroke-width="3"/>
<line x1="278.8" y1="1518.95" x2="278.8" y2="1559.7" stroke="#2a2a2a" stroke-width="3"/>
<line x1="268.6" y1="1559.7" x2="289" y2="1559.7" stroke="#1a1a1a" stroke-width="3"/>
<line x1="415.5" y1="1600.45" x2="415.5" y2="1641.2" stroke="#000" stroke-width="5"/>
<line x1="405.3" y1="1641.2" x2="425.7" y2="1641.2" stroke="#000" stroke-width="4.9"/>
<line x1="415.5" y1="1478.2" x2="415.5" y2="1396.7" stroke="#000" stroke-width="5"/>
<line x1="405.3" y1="1396.7" x2="425.7" y2="1396.7" stroke="#1a1a1a" stroke-width="3"/>
<line x1="477.7" y1="1437.45" x2="477.7" y2="1478.2" stroke="#2a2a2a" stroke-width="3"/>
<line x1="467.5" y1="1478.2" x2="487.9" y2="1478.2" stroke="#141414" stroke-width="4.2"/>
<line x1="514.8" y1="1355.95" x2="514.8" y2="1315.2" stroke="#2a2a2a" stroke-width="3"/>
<line x1="504.6" y1="1315.2" x2="525" y2="1315.2" stroke="#141414" stroke-width="4.2"/>
<line x1="551.9" y1="1437.45" x2="551.9" y2="1478.2" stroke="#000" stroke-width="5"/>
<line x1="541.7" y1="1478.2" x2="562.1" y2="1478.2" stroke="#000" stroke-width="4.9"/>
<line x1="551.9" y1="1355.95" x2="551.9" y2="1315.2" stroke="#000" stroke-width="5"/>
<line x1="541.7" y1="1315.2" x2="562.1" y2="1315.2" stroke="#000" stroke-width="4.9"/>
<line x1="649.7" y1="1559.7" x2="649.7" y2="1722.7" stroke="#0a0a0a" stroke-width="3.7"/>
<line x1="639.5" y1="1725.1" x2="659.9" y2="1725.1" stroke="#6a6a6a" stroke-width="2.2"/>
<line x1="686.8" y1="1600.45" x2="686.8" y2="1722.7" stroke="#0a0a0a" stroke-width="3.7"/>
<line x1="676.6" y1="1725.1" x2="697" y2="1725.1" stroke="#6a6a6a" stroke-width="2.2"/>
<line x1="686.8" y1="1437.45" x2="686.8" y2="1396.7" stroke="#2a2a2a" stroke-width="3"/>
<line x1="676.6" y1="1396.7" x2="697" y2="1396.7" stroke="#1a1a1a" stroke-width="3"/>
<rect x="186.05" y="1396.7" width="37.1" height="81.5" fill="#ffffff" stroke="#1c1c1c" stroke-width="3.2"/>
<line x1="184.45" y1="1396.5" x2="224.75" y2="1396.5" stroke="#141414" stroke-width="4"/>
<rect x="223.15" y="1437.45" width="37.1" height="81.5" fill="#bababa" stroke="#0c0c0c" stroke-width="3.2"/>
<line x1="221.55" y1="1437.25" x2="261.85" y2="1437.25" stroke="#141414" stroke-width="4"/>
<rect x="260.25" y="1396.7" width="37.1" height="122.25" fill="#3a3a3a" stroke="#0c0c0c" stroke-width="3.2"/>
<line x1="258.65" y1="1396.5" x2="298.95" y2="1396.5" stroke="#141414" stroke-width="4"/>
<line x1="322.25" y1="1396.7" x2="360.35" y2="1396.7" stroke="#000" stroke-width="7.4"/>
<rect x="359.85" y="1478.2" width="37.1" height="81.5" fill="#bababa" stroke="#0c0c0c" stroke-width="3.2"/>
<line x1="358.25" y1="1478" x2="398.55" y2="1478" stroke="#141414" stroke-width="4"/>
<rect x="396.95" y="1478.2" width="37.1" height="122.25" fill="#3a3a3a" stroke="#0c0c0c" stroke-width="3.2"/>
<line x1="395.35" y1="1478" x2="435.65" y2="1478" stroke="#141414" stroke-width="4"/>
<rect x="459.15" y="1396.7" width="37.1" height="40.75" fill="#ffffff" stroke="#1c1c1c" stroke-width="3.2"/>
<line x1="457.55" y1="1396.5" x2="497.85" y2="1396.5" stroke="#141414" stroke-width="4"/>
<rect x="496.25" y="1355.95" width="37.1" height="122.25" fill="#bababa" stroke="#0c0c0c" stroke-width="3.2"/>
<line x1="494.65" y1="1355.75" x2="534.95" y2="1355.75" stroke="#141414" stroke-width="4"/>
<rect x="533.35" y="1355.95" width="37.1" height="81.5" fill="#3a3a3a" stroke="#0c0c0c" stroke-width="3.2"/>
<line x1="531.75" y1="1355.75" x2="572.05" y2="1355.75" stroke="#141414" stroke-width="4"/>
<rect x="594.05" y="1396.7" width="37.1" height="81.5" fill="#ffffff" stroke="#1c1c1c" stroke-width="3.2"/>
<line x1="592.45" y1="1396.5" x2="632.75" y2="1396.5" stroke="#141414" stroke-width="4"/>
<rect x="631.15" y="1396.7" width="37.1" height="163" fill="#bababa" stroke="#0c0c0c" stroke-width="3.2"/>
<line x1="629.55" y1="1396.5" x2="669.85" y2="1396.5" stroke="#141414" stroke-width="4"/>
<rect x="668.25" y="1437.45" width="37.1" height="163" fill="#3a3a3a" stroke="#0c0c0c" stroke-width="3.2"/>
<line x1="666.65" y1="1437.25" x2="706.95" y2="1437.25" stroke="#141414" stroke-width="4"/>
<line x1="194.4" y1="1396.4" x2="214.8" y2="1396.4" stroke="#000" stroke-width="3.8"/>
<line x1="268.6" y1="1396.4" x2="289" y2="1396.4" stroke="#000" stroke-width="3.8"/>
<line x1="368.2" y1="1477.9" x2="388.6" y2="1477.9" stroke="#000" stroke-width="3.8"/>
<line x1="467.5" y1="1396.4" x2="487.9" y2="1396.4" stroke="#000" stroke-width="3.8"/>
<line x1="504.6" y1="1478.6" x2="525" y2="1478.6" stroke="#000" stroke-width="4.2"/>
<line x1="602.4" y1="1396.4" x2="622.8" y2="1396.4" stroke="#000" stroke-width="3.8"/>
<line x1="602.4" y1="1478.6" x2="622.8" y2="1478.6" stroke="#000" stroke-width="4.2"/>
<line x1="639.5" y1="1396.4" x2="659.9" y2="1396.4" stroke="#000" stroke-width="3.8"/>
<line x1="184.65" y1="1396.7" x2="224.55" y2="1396.7" stroke="#000" stroke-width="7.2"/>
<line x1="221.75" y1="1478.2" x2="261.65" y2="1478.2" stroke="#000" stroke-width="5"/>
<line x1="258.85" y1="1437.45" x2="298.75" y2="1437.45" stroke="#000" stroke-width="4.9"/>
<line x1="358.45" y1="1518.95" x2="398.35" y2="1518.95" stroke="#000" stroke-width="7.3"/>
<line x1="395.55" y1="1559.7" x2="435.45" y2="1559.7" stroke="#000" stroke-width="7"/>
<line x1="457.75" y1="1396.7" x2="497.65" y2="1396.7" stroke="#000" stroke-width="7.2"/>
<line x1="494.85" y1="1437.45" x2="534.75" y2="1437.45" stroke="#000" stroke-width="4.9"/>
<line x1="531.95" y1="1396.7" x2="571.85" y2="1396.7" stroke="#000" stroke-width="7.2"/>
<line x1="592.65" y1="1437.45" x2="632.55" y2="1437.45" stroke="#000" stroke-width="4.9"/>
<line x1="629.75" y1="1396.7" x2="669.65" y2="1396.7" stroke="#000" stroke-width="7.2"/>
<line x1="666.85" y1="1478.2" x2="706.75" y2="1478.2" stroke="#000" stroke-width="5"/>
<line x1="156.8" y1="1270.25" x2="736.6" y2="1270.25" stroke="#4e4e4e" stroke-width="4.6"/>
<line x1="734.3" y1="1270" x2="734.3" y2="1723.8" stroke="#4e4e4e" stroke-width="4.6"/>
<line x1="158.1" y1="1270" x2="158.1" y2="1724.2" stroke="#000" stroke-width="2.7"/>
<line x1="133.6" y1="1722.8" x2="736" y2="1722.8" stroke="#000" stroke-width="3"/>
<line x1="133.6" y1="1315.2" x2="158.1" y2="1315.2" stroke="#1a1a1a" stroke-width="3.8"/>
<text class="t" transform="translate(113.74 1334.3) scale(0.86 1)" font-size="40.5">1</text>
<line x1="133.6" y1="1396.7" x2="158.1" y2="1396.7" stroke="#1a1a1a" stroke-width="3.8"/>
<text class="t" transform="translate(113.39 1415.8) scale(0.86 1)" font-size="40.5">0</text>
<line x1="133.6" y1="1478.2" x2="158.1" y2="1478.2" stroke="#1a1a1a" stroke-width="3.8"/>
<text class="t" transform="translate(98.53 1497.3) scale(0.86 1)" font-size="40.5"><tspan dy="2.3">-</tspan><tspan dy="-2.3" dx="4.2">1</tspan></text>
<line x1="133.6" y1="1559.7" x2="158.1" y2="1559.7" stroke="#1a1a1a" stroke-width="3.8"/>
<text class="t" transform="translate(98.53 1578.8) scale(0.86 1)" font-size="40.5"><tspan dy="2.3">-</tspan><tspan dy="-2.3" dx="4.2">2</tspan></text>
<line x1="133.6" y1="1641.2" x2="158.1" y2="1641.2" stroke="#1a1a1a" stroke-width="3.8"/>
<text class="t" transform="translate(98.35 1660.3) scale(0.86 1)" font-size="40.5"><tspan dy="2.3">-</tspan><tspan dy="-2.3" dx="4.2">3</tspan></text>
<text class="t" transform="translate(97.83 1741.6) scale(0.86 1)" font-size="40.5"><tspan dy="2.3">-</tspan><tspan dy="-2.3" dx="4.2">4</tspan></text>
<line x1="241.4" y1="1722.8" x2="241.4" y2="1748.6" stroke="#1a1a1a" stroke-width="3.6"/>
<text class="t" transform="translate(182.41 1785.9) scale(0.934 1)" font-size="40.5">Control</text>
<line x1="378.6" y1="1722.8" x2="378.6" y2="1748.6" stroke="#1a1a1a" stroke-width="3.6"/>
<text class="t" transform="translate(337.77 1785.9) scale(0.9506 1)" font-size="40.5">OTC</text>
<line x1="514.4" y1="1722.8" x2="514.4" y2="1748.6" stroke="#1a1a1a" stroke-width="3.6"/>
<text class="t" transform="translate(462.01 1785.9) scale(0.9831 1)" font-size="40.5">Press</text>
<line x1="649.6" y1="1722.8" x2="649.6" y2="1748.6" stroke="#1a1a1a" stroke-width="3.6"/>
<text class="t" transform="translate(602.14 1785.9) scale(0.945 1)" font-size="40.5">Pulse</text>
<text class="t" transform="translate(359.73 1853) scale(0.9321 1)" font-size="41.2">Treatment</text>
<text class="t" transform="translate(30.8 1649.39) rotate(-90) scale(0.9005 1)" font-size="41.5">Relative change in</text>
<text class="t" transform="translate(69.3 1651.06) rotate(-90) scale(0.9115 1)" font-size="41.5">number of species</text>
<text class="b" transform="translate(190.8 1322) scale(0.8914 1)" font-size="41.5">E</text>
</g>
</g>
</svg></body></html>
